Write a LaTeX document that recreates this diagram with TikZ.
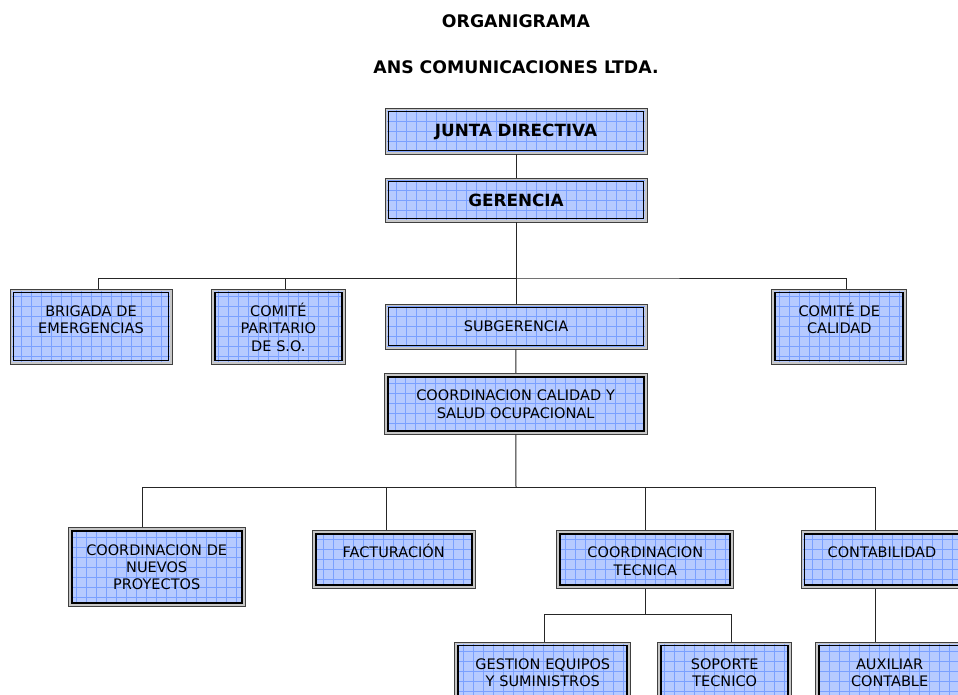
\documentclass[tikz,border=0pt]{standalone}
\usepackage{fontspec}
\setmainfont{DejaVu Sans}
\definecolor{boxblue}{RGB}{182,202,255}
\definecolor{gridblue}{RGB}{122,160,255}
\tikzset{
	orgbox/.style 2 args={draw=black!75, line width=0.8pt, fill=boxblue, minimum width=#1, minimum height=#2, inner sep=0pt,
		path picture={
			\draw[gridblue, line width=0.6pt, step=10pt] (path picture bounding box.south west) grid (path picture bounding box.north east);
			\draw[black!22, line width=2pt] ([shift={(1.4pt,1.4pt)}]path picture bounding box.south west) rectangle ([shift={(-1.4pt,-1.4pt)}]path picture bounding box.north east);
			\draw[black, line width=1.8pt] ([shift={(3.5pt,3.5pt)}]path picture bounding box.south west) rectangle ([shift={(-3.5pt,-3.5pt)}]path picture bounding box.north east);
		}},
	boxtext/.style={anchor=base, yshift=-28pt, text width=240pt, align=center, inner sep=0pt, font=\fontsize{14.5}{17.3}\selectfont},
	boldtext/.style={boxtext, yshift=-0.5pt, font=\fontsize{16.8}{20}\selectfont\bfseries},
	title/.style={font=\fontsize{17.3}{20}\selectfont\bfseries},
	link/.style={draw=black!85, line width=1pt}
}

\begin{document}
\begin{tikzpicture}[x=1pt, y=-1pt]
		\useasboundingbox (0,0) rectangle (958,694);
		%titles
		\node[title] (orga) at (516,21) {ORGANIGRAMA};
		\node[title] (empresa) at (516,67) {ANS COMUNICACIONES LTDA.};
		%top
		\node[orgbox={262pt}{46pt}, label={[boldtext]north:JUNTA DIRECTIVA}] (junta) at (516,131) {};
		\node[orgbox={262pt}{44pt}, label={[boldtext]north:GERENCIA}] (geren) at (516,200) {};
		%middle
		\node[orgbox={162pt}{75pt}, label={[boxtext]north:BRIGADA DE\\EMERGENCIAS}] (brig) at (91,326.5) {};
		\node[orgbox={134pt}{75pt}, label={[boxtext]north:COMITÉ\\PARITARIO\\DE S.O.}] (comite) at (278.3,326.5) {};
		\node[orgbox={262pt}{45pt}, label={[boxtext]north:SUBGERENCIA}] (subg) at (516,326.5) {};
		\node[orgbox={135pt}{75pt}, label={[boxtext]north:COMITÉ DE\\CALIDAD}] (calidad) at (839.3,326.5) {};
		\node[orgbox={263pt}{61pt}, label={[boxtext]north:COORDINACION CALIDAD Y\\SALUD OCUPACIONAL}] (coordcal) at (515.6,403.7) {};
		%bottom
		\node[orgbox={177pt}{79pt}, label={[boxtext]north:COORDINACION DE\\NUEVOS\\PROYECTOS}] (nuevos) at (156.7,567.2) {};
		\node[orgbox={163pt}{58pt}, label={[boxtext]north:FACTURACIÓN}] (factu) at (393.7,559.2) {};
		\node[orgbox={177pt}{58pt}, label={[boxtext]north:COORDINACION\\TECNICA}] (ctec) at (645.3,559.2) {};
		\node[orgbox={162pt}{58pt}, label={[boxtext]north:CONTABILIDAD}] (conta) at (882,559.2) {};
		\node[orgbox={176pt}{58pt}, label={[boxtext]north:GESTION EQUIPOS\\Y SUMINISTROS}] (gestion) at (542.8,671) {};
		\node[orgbox={134pt}{58pt}, label={[boxtext]north:SOPORTE\\TECNICO}] (soporte) at (724.7,671) {};
		\node[orgbox={148pt}{58pt}, label={[boxtext]north:AUXILIAR\\CONTABLE}] (aux) at (889.6,671) {};
		%lines
		\coordinate (bus1) at (516,278);
		\coordinate (bus2) at (516,487.5);
		\coordinate (bus3) at (645.3,614);
		\draw[link] (junta) -- (geren);
		\draw[link] (geren) -- (subg);
		\draw[link] ([xshift=7.5pt]brig.north) |- (bus1) -| ([xshift=7.2pt]calidad.north);
		\draw[link] (bus1) -| ([xshift=7.2pt]comite.north);
		\draw[link] (subg) -- (coordcal);
		\draw[link] (coordcal) -- (bus2);
		\draw[link] ([xshift=-14.7pt]nuevos.north) |- (bus2) -| ([xshift=-6.5pt]conta.north);
		\draw[link] (bus2) -| ([xshift=-7.2pt]factu.north);
		\draw[link] (bus2) -| (ctec.north);
		\draw[link] (ctec) -- (bus3);
		\draw[link] ([xshift=1.7pt]gestion.north) |- (bus3) -| ([xshift=6.8pt]soporte.north);
		\draw[link] ([xshift=-6.5pt]conta.south) -- ([xshift=-14.1pt]aux.north);
\end{tikzpicture}
\end{document}
